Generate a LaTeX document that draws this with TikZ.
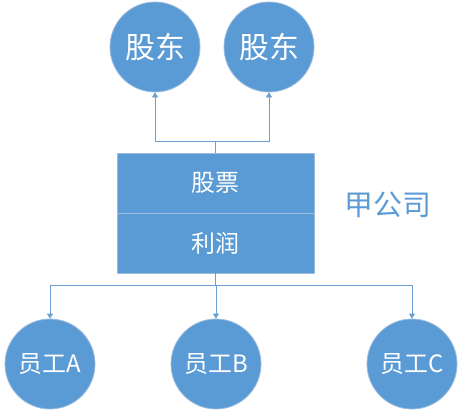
\documentclass[tikz,border=0pt]{standalone}
\usepackage{fontspec}
\newfontfamily\cjk{Noto Sans CJK SC}
\usetikzlibrary{arrows.meta}
\definecolor{fillblue}{HTML}{5B9BD5}
\definecolor{edgeblue}{HTML}{9DBCDD}
\definecolor{lineblue}{HTML}{6A9FD3}
\begin{document}
\begin{tikzpicture}
  [x=1bp,y=1bp,every node/.style={font=\cjk,text=white,inner sep=0pt}]
  \tikzstyle{person} = [circle,fill=fillblue,draw=edgeblue,line width=0.8bp,minimum size=90bp]
  \tikzstyle{cell} = [rectangle,fill=fillblue,draw=edgeblue,line width=0.8bp,minimum width=197bp,minimum height=60bp,font=\cjk\fontsize{24}{24}\selectfont]
  \tikzstyle{link} = [lineblue,line width=0.8bp,-{Triangle[length=5bp,width=6bp]}]
  \useasboundingbox (0,0) rectangle (464,418);
  \node[person,font=\cjk\fontsize{30}{30}\selectfont] (sh1) at (155,371) {股东};
  \node[person,font=\cjk\fontsize{30}{30}\selectfont] (sh2) at (269,371) {股东};
  \node[cell] (gp) at (215.5,235) {股票};
  \node[cell] (lr) at (215.5,175) {利润};
  \node[text=fillblue,font=\cjk\fontsize{29}{29}\selectfont] (jia) at (388,213) {甲公司};
  \node[person,font=\cjk\fontsize{24}{24}\selectfont] (ygA) at (50,54) {员工A};
  \node[person,font=\cjk\fontsize{24}{24}\selectfont] (ygB) at (216,54) {员工B};
  \node[person,font=\cjk\fontsize{24}{24}\selectfont] (ygC) at (412,54) {员工C};
\foreach \dest in {sh1,sh2}
   \draw[link] (gp.north) -- ++(0,11) -| (\dest);
\foreach \dest in {ygA,ygB,ygC}
   \draw[link] (lr.south) -- ++(0,-12) -| (\dest);


\end{tikzpicture}
\end{document}
